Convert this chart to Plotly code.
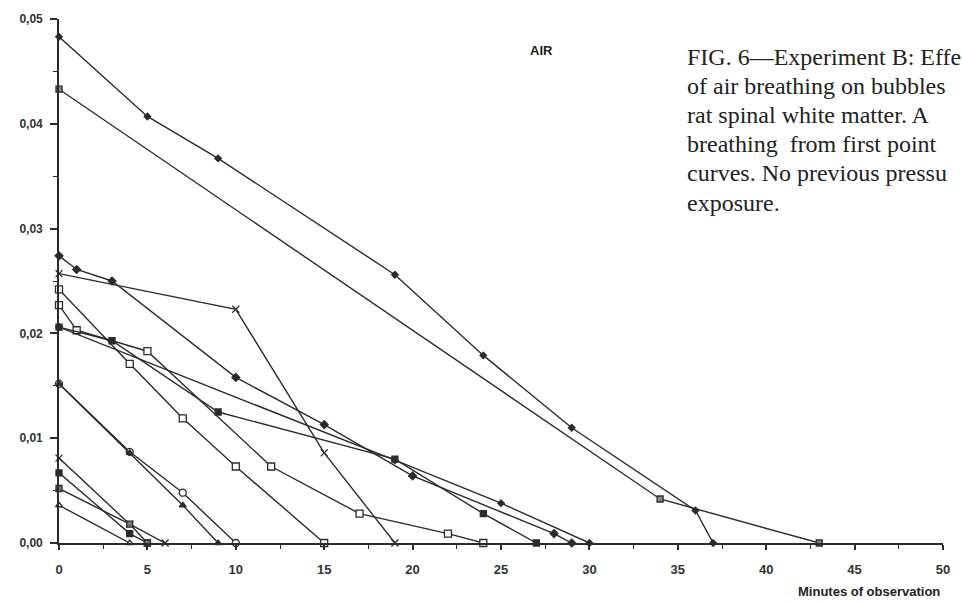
import plotly.graph_objects as go

# ---- data (minutes, bubble size) ----
a_x = [0, 5, 9, 19, 24, 29, 36, 37]
a_y = [0.0483, 0.0407, 0.0367, 0.0256, 0.0179, 0.0110, 0.0031, 0.0]

b_x = [0, 34, 43]
b_y = [0.0433, 0.0042, 0.0]

c_x = [0, 1, 3, 10, 15, 20, 28, 29]
c_y = [0.0274, 0.0261, 0.0250, 0.0158, 0.0113, 0.0064, 0.0009, 0.0]

d_x = [0, 10, 15, 19]
d_y = [0.0257, 0.0223, 0.0086, 0.0]

e_x = [0, 4, 7, 10, 15]
e_y = [0.0242, 0.0171, 0.0119, 0.0073, 0.0]

f_x = [0, 1, 5, 12, 17, 22, 24]
f_y = [0.0227, 0.0203, 0.0183, 0.0073, 0.0028, 0.0009, 0.0]

g_x = [0, 3, 9, 19, 24, 27]
g_y = [0.0206, 0.0193, 0.0125, 0.0080, 0.0028, 0.0]

h_x = [0, 19, 25, 30]
h_y = [0.0206, 0.0079, 0.0038, 0.0]

i_x = [0, 4, 7, 10]
i_y = [0.0152, 0.0087, 0.0048, 0.0]

j_x = [0, 4, 7, 9]
j_y = [0.0152, 0.0086, 0.0036, 0.0]

k_x = [0, 4, 6]
k_y = [0.0081, 0.0018, 0.0]

l_x = [0, 4, 5]
l_y = [0.0067, 0.0009, 0.0]

m_x = [0, 4, 5]
m_y = [0.0052, 0.0018, 0.0]

n_x = [0, 4]
n_y = [0.0036, 0.0]

y_tickvals = [0.0, 0.01, 0.02, 0.03, 0.04, 0.05]
y_ticktext = ["0,00", "0,01", "0,02", "0,03", "0,04", "0,05"]
x_tickvals = [0, 5, 10, 15, 20, 25, 30, 35, 40, 45, 50]
x_ticktext = ["0", "5", "10", "15", "20", "25", "30", "35", "40", "45", "50"]

caption_lines = [
    "FIG. 6—Experiment B: Effe",
    "of air breathing on bubbles",
    "rat spinal white matter. A",
    "breathing  from first point",
    "curves. No previous pressu",
    "exposure.",
]

INK = "#2b2b2b"

series = [
    (a_x, a_y, "diamond", INK, 5),
    (b_x, b_y, "square", "#888888", 6),
    (c_x, c_y, "diamond", INK, 6),
    (d_x, d_y, "x-thin", INK, 7),
    (e_x, e_y, "square", "white", 7),
    (f_x, f_y, "square", "white", 7),
    (g_x, g_y, "square", INK, 6),
    (h_x, h_y, "diamond", INK, 5),
    (i_x, i_y, "circle", "white", 7),
    (j_x, j_y, "triangle-up", INK, 6),
    (k_x, k_y, "x-thin", INK, 7),
    (l_x, l_y, "square", INK, 6),
    (m_x, m_y, "square", "#777777", 6),
    (n_x, n_y, "triangle-up", "white", 6),
]

W, H = 962, 603
L, R, T, B = 59, 13, 15, 60
pw, ph = W - L - R, H - T - B


def px(xp):
    return (xp - L) / pw


def py(yp):
    return 1 - (yp - T) / ph


fig = go.Figure()
for xs, ys, sym, fillc, sz in series:
    fig.add_trace(go.Scatter(
        x=xs, y=ys, mode="lines+markers",
        line=dict(color=INK, width=1.4),
        marker=dict(symbol=sym, size=sz, color=fillc,
                    line=dict(color=INK, width=1.3)),
        showlegend=False, cliponaxis=False,
    ))

fig.update_layout(
    width=W, height=H,
    margin=dict(l=L, r=R, t=T, b=B),
    paper_bgcolor="white", plot_bgcolor="white",
    font=dict(family="Liberation Sans, Arial", color="#333333"),
    xaxis=dict(range=[0, 50], tickvals=x_tickvals,
               ticktext=["<b>" + t + "</b>" for t in x_ticktext],
               ticks="outside", ticklen=5, tickwidth=1.5, tickcolor=INK,
               ticklabelstandoff=9,
               showline=True, linecolor=INK, linewidth=1.6,
               showgrid=False, zeroline=False,
               tickfont=dict(size=13, family="Liberation Sans", color="#333"),
               minor=dict(dtick=2.5, ticks="outside", ticklen=4, tickcolor=INK, tickwidth=1.3)),
    yaxis=dict(range=[0, 0.05], tickvals=y_tickvals,
               ticktext=["<b>" + t + "</b>" for t in y_ticktext],
               ticks="outside", ticklen=7, tickwidth=1.5, tickcolor=INK,
               ticklabelstandoff=5,
               showline=True, linecolor=INK, linewidth=1.6,
               showgrid=False, zeroline=False,
               tickfont=dict(size=12, family="Liberation Sans", color="#333"),
               minor=dict(dtick=0.005, ticks="outside", ticklen=4, tickcolor=INK, tickwidth=1.3)),
)

fig.add_annotation(x=px(545), y=py(47), xref="paper", yref="paper", text="<b>AIR</b>",
                   xanchor="center", yanchor="middle",
                   showarrow=False, font=dict(size=13, family="Liberation Sans", color="#222"))
fig.add_annotation(x=px(948), y=py(592), xref="paper", yref="paper", xanchor="right", yanchor="middle",
                   text="<b>Minutes of observation</b>", showarrow=False,
                   font=dict(size=13, family="Liberation Sans", color="#222"))
for idx, line in enumerate(caption_lines):
    fig.add_annotation(x=px(689), y=py(53 + idx * 29.4), xref="paper", yref="paper", showarrow=False,
                       text=line, xanchor="left", yanchor="middle",
                       font=dict(size=24, family="Liberation Serif", color="#222"))

fig.write_html("out.html")
